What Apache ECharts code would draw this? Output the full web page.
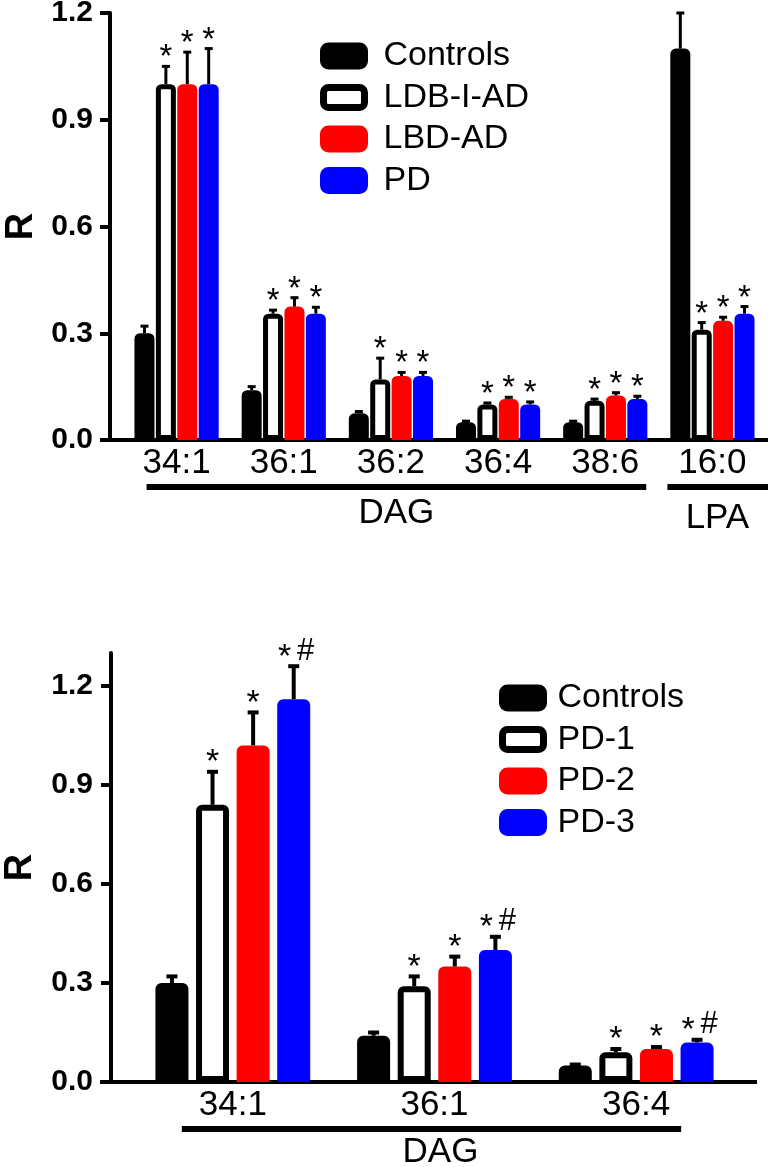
<!DOCTYPE html>
<html><head><meta charset="utf-8">
<script src="https://cdn.jsdelivr.net/npm/echarts@6/dist/echarts.min.js"></script>
<style>html,body{margin:0;padding:0;background:#fff}#c{width:768px;height:1167px}</style>
</head><body><div id="c"></div>
<script>
const FONT = '"Liberation Sans", Arial, Helvetica, sans-serif';

// ---------------- Top panel data ----------------
const topCategories = ['34:1', '36:1', '36:2', '36:4', '38:6', '16:0'];
const topSeriesNames = ['Controls', 'LDB-I-AD', 'LBD-AD', 'PD'];
const topControls    = [0.30, 0.14, 0.075, 0.05, 0.05, 1.10];
const topControlsErr = [0.02, 0.01, 0.005, 0.003, 0.003, 0.10];
const topLDBIAD      = [1.00, 0.355, 0.17, 0.10, 0.11, 0.31];
const topLDBIADErr   = [0.05, 0.01, 0.06, 0.004, 0.005, 0.02];
const topLBDAD       = [1.00, 0.375, 0.18, 0.115, 0.125, 0.335];
const topLBDADErr    = [0.09, 0.025, 0.01, 0.005, 0.008, 0.01];
const topPD          = [1.00, 0.355, 0.18, 0.10, 0.115, 0.355];
const topPDErr       = [0.10, 0.018, 0.01, 0.007, 0.008, 0.02];
const topMarksControls = ['', '', '', '', '', ''];
const topMarksLDBIAD   = ['*', '*', '*', '*', '*', '*'];
const topMarksLBDAD    = ['*', '*', '*', '*', '*', '*'];
const topMarksPD       = ['*', '*', '*', '*', '*', '*'];
const topYTicks = [0, 0.3, 0.6, 0.9, 1.2];
const topGroupLabels = ['DAG', 'LPA'];

// ---------------- Bottom panel data ----------------
const botCategories = ['34:1', '36:1', '36:4'];
const botSeriesNames = ['Controls', 'PD-1', 'PD-2', 'PD-3'];
const botControls    = [0.30, 0.14, 0.05];
const botControlsErr = [0.02, 0.01, 0.003];
const botPD1         = [0.84, 0.29, 0.09];
const botPD1Err      = [0.10, 0.03, 0.01];
const botPD2         = [1.02, 0.35, 0.10];
const botPD2Err      = [0.10, 0.03, 0.006];
const botPD3         = [1.16, 0.40, 0.12];
const botPD3Err      = [0.10, 0.04, 0.008];
const botMarksControls = ['', '', ''];
const botMarksPD1      = ['*', '*', '*'];
const botMarksPD2      = ['*', '*', '*'];
const botMarksPD3      = ['*#', '*#', '*#'];
const botYTicks = [0, 0.3, 0.6, 0.9, 1.2];
const botGroupLabels = ['DAG'];

// ---------------- styles ----------------
const FILL   = ['#000000', '#ffffff', '#ff0000', '#0000ff'];
const STROKE = ['#000000', '#000000', '#ff0000', '#0000ff'];
const TOP = { bw: 20, border: 5, gap: 0.07, cap: 8, errW: 3, starSize: 33, starDy: 8, hashSize: 30, hashDy: 14, starDx: 9, hashDx: 12 };
const BOT = { bw: 33, border: 6, gap: 0.23, cap: 11, errW: 4, starSize: 34, starDy: 9, hashSize: 31, hashDy: 15, starDx: 9, hashDx: 12 };

function barSeries(name, values, idx, cfg, ax) {
  return {
    type: 'bar', name: name, xAxisIndex: ax, yAxisIndex: ax, data: values,
    barWidth: cfg.bw, barGap: (cfg.gap * 100) + '%',
    itemStyle: { color: FILL[idx], borderColor: STROKE[idx], borderWidth: cfg.border, borderRadius: [3, 3, 0, 0] },
    emphasis: { disabled: true }, silent: true
  };
}

function errSeries(ax, cfg, vals, errs, marks) {
  const data = [];
  const labels = [];
  vals.forEach(function (arr, s) {
    arr.forEach(function (v, c) {
      data.push([c, v, v + errs[s][c], s]);
      labels.push(marks[s][c]);
    });
  });
  const n = vals.length;
  return {
    type: 'custom', xAxisIndex: ax, yAxisIndex: ax, z: 5, silent: true,
    data: data, encode: { x: 0, y: [1, 2] },
    renderItem: function (params, api) {
      const c = api.value(0), v = api.value(1), h = api.value(2), s = api.value(3);
      const step = cfg.bw * (1 + cfg.gap);
      const total = n * cfg.bw + (n - 1) * cfg.bw * cfg.gap;
      const p0 = api.coord([c, v]);
      const p1 = api.coord([c, h]);
      const x = p0[0] - total / 2 + cfg.bw / 2 + s * step;
      const children = [
        { type: 'line', shape: { x1: x, y1: p0[1], x2: x, y2: p1[1] }, style: { stroke: '#000', lineWidth: cfg.errW } },
        { type: 'line', shape: { x1: x - cfg.cap / 2, y1: p1[1], x2: x + cfg.cap / 2, y2: p1[1] }, style: { stroke: '#000', lineWidth: cfg.errW } }
      ];
      const m = labels[params.dataIndex];
      if (m) {
        if (m.indexOf('#') >= 0) {
          children.push({ type: 'text', style: { text: '*', x: x - cfg.starDx, y: p1[1] - cfg.starDy, align: 'center', verticalAlign: 'middle', textAlign: 'center', textVerticalAlign: 'middle', fontSize: cfg.starSize, fontFamily: FONT, fill: '#000' } });
          children.push({ type: 'text', style: { text: '#', x: x + cfg.hashDx, y: p1[1] - cfg.hashDy, align: 'center', verticalAlign: 'middle', textAlign: 'center', textVerticalAlign: 'middle', fontSize: cfg.hashSize, fontFamily: FONT, fill: '#000' } });
        } else {
          children.push({ type: 'text', style: { text: m, x: x, y: p1[1] - cfg.starDy, align: 'center', verticalAlign: 'middle', textAlign: 'center', textVerticalAlign: 'middle', fontSize: cfg.starSize, fontFamily: FONT, fill: '#000' } });
        }
      }
      return { type: 'group', children: children };
    }
  };
}

function yAxis(grid, max, ticks, offset, margin, nameGap) {
  return {
    type: 'value', gridIndex: grid, min: 0, max: max, interval: 0.3, offset: offset,
    axisLine: { show: true, lineStyle: { color: '#000', width: 4 } },
    axisTick: { show: true, length: 10, lineStyle: { color: '#000', width: 4 }, customValues: ticks },
    axisLabel: { formatter: function (v) { return v.toFixed(1); }, fontSize: 30, fontWeight: 'bold', color: '#000', fontFamily: FONT, margin: margin, customValues: ticks },
    splitLine: { show: false },
    name: 'R', nameLocation: 'middle', nameRotate: 90, nameGap: nameGap,
    nameTextStyle: { fontSize: 38, fontWeight: 'bold', color: '#000', fontFamily: FONT }
  };
}

function xAxis(grid, cats) {
  return {
    type: 'category', gridIndex: grid, data: cats,
    axisLine: { show: true, lineStyle: { color: '#000', width: 4 } },
    axisTick: { show: false },
    axisLabel: { interval: 0, fontSize: 35, color: '#000', fontFamily: FONT, margin: 6 },
    splitLine: { show: false }
  };
}

function legend(names, left, top, padLeft) {
  return {
    orient: 'vertical', left: left, top: top, padding: 0, icon: 'roundRect',
    itemWidth: 41, itemHeight: 20, itemGap: 7.5, selectedMode: false,
    data: names.map(function (n, i) { return { name: n, itemStyle: { color: FILL[i], borderColor: STROKE[i], borderWidth: 7 } }; }),
    textStyle: { fontSize: 34, color: '#000', fontFamily: FONT, padding: [0, 0, 0, padLeft], lineHeight: 20 }
  };
}

const chart = echarts.init(document.getElementById('c'), null, { renderer: 'canvas' });

const topVals = [topControls, topLDBIAD, topLBDAD, topPD];
const topErrs = [topControlsErr, topLDBIADErr, topLBDADErr, topPDErr];
const topMarks = [topMarksControls, topMarksLDBIAD, topMarksLBDAD, topMarksPD];
const botVals = [botControls, botPD1, botPD2, botPD3];
const botErrs = [botControlsErr, botPD1Err, botPD2Err, botPD3Err];
const botMarks = [botMarksControls, botMarksPD1, botMarksPD2, botMarksPD3];

const series = [];
topSeriesNames.forEach(function (n, i) { series.push(barSeries(n, topVals[i], i, TOP, 0)); });
botSeriesNames.forEach(function (n, i) { series.push(barSeries(n, botVals[i], i, BOT, 1)); });
series.push(errSeries(0, TOP, topVals, topErrs, topMarks));
series.push(errSeries(1, BOT, botVals, botErrs, botMarks));

chart.setOption({
  animation: false,
  backgroundColor: '#fff',
  textStyle: { fontFamily: FONT },
  grid: [
    { left: 123, right: 2, top: 13, height: 427, containLabel: false, outerBoundsMode: 'none' },
    { left: 132, right: 31, top: 653, height: 429, containLabel: false, outerBoundsMode: 'none' }
  ],
  xAxis: [xAxis(0, topCategories), xAxis(1, botCategories)],
  yAxis: [yAxis(0, 1.2, topYTicks, 13, 17, 69), yAxis(1, 1.3, botYTicks, 21, 18, 71)],
  legend: [legend(topSeriesNames, 320, 39, 14), legend(botSeriesNames, 499, 681, 9)],
  series: series
});

// ---- group annotations (axis extensions, underlines, group names) ----
function px(grid, cat) { return chart.convertToPixel({ gridIndex: grid }, [cat, 0]); }
const t0 = px(0, 0), t1 = px(0, 1), t4 = px(0, 4), t5 = px(0, 5);
const tBand = t1[0] - t0[0];
const tLeft = t0[0] - tBand / 2;
const b0 = px(1, 0), b1 = px(1, 1), b2 = px(1, 2);
const bBand = b1[0] - b0[0];
const bLeft = b0[0] - bBand / 2, bRight = b2[0] + bBand / 2;
const ty = t0[1], by = b0[1];
function ln(x1, y1, x2, y2, w) { return { type: 'line', shape: { x1: x1, y1: y1, x2: x2, y2: y2 }, style: { stroke: '#000', lineWidth: w } }; }
function tx(s, x, y) { return { type: 'text', x: x, y: y, style: { text: s, fontSize: 35, fontFamily: FONT, fill: '#000', align: 'center', verticalAlign: 'middle', textAlign: 'center', textVerticalAlign: 'middle' } }; }
const dagL = t0[0] - 30, dagR = t4[0] + 41;
const bdagL = b0[0] - 51, bdagR = b2[0] + 45;
chart.setOption({
  graphic: [
    ln(100, ty, tLeft, ty, 4), ln(tLeft + tBand * 6 - 1, ty, 768, ty, 4),
    ln(dagL, ty + 47, dagR, ty + 47, 6),
    ln(t5[0] - 45, ty + 47, 768, ty + 47, 6),
    tx(topGroupLabels[0], (dagL + dagR) / 2, ty + 73),
    tx(topGroupLabels[1], t5[0] + 5, ty + 78),
    ln(100, by, bLeft, by, 4), ln(bRight - 1, by, 757, by, 4),
    ln(bdagL, by + 47, bdagR, by + 47, 6),
    tx(botGroupLabels[0], b1[0] + 6, by + 70)
  ]
});
</script>
</body></html>
